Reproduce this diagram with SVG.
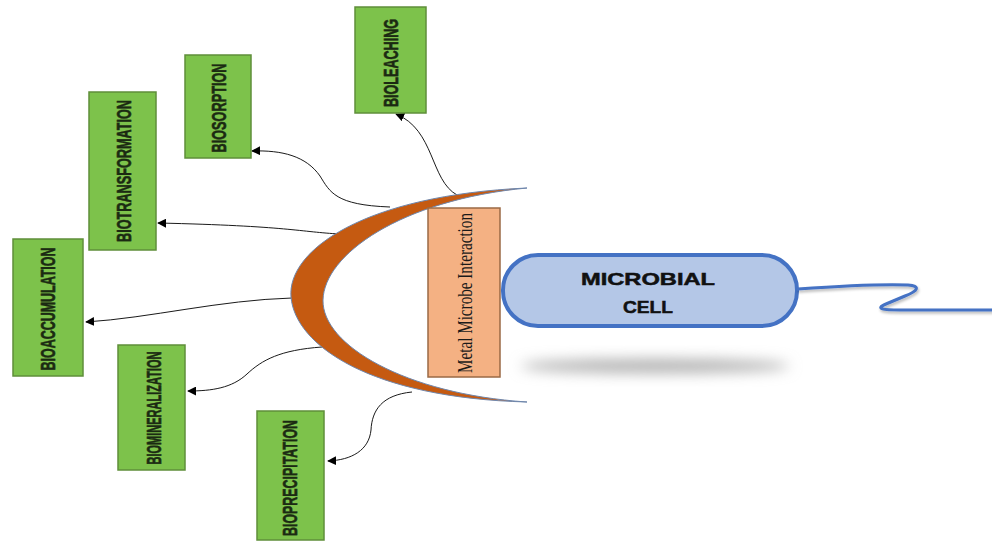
<svg xmlns="http://www.w3.org/2000/svg" width="992" height="543" viewBox="0 0 992 543">
<style>
.box{fill:#7dc24b;stroke:#5f8f3a;stroke-width:1.5}
.lbl{font-family:"Liberation Sans",Arial,sans-serif;font-weight:bold;font-size:20px;fill:#1b2a12;stroke:#1b2a12;stroke-width:0.6;text-anchor:middle;dominant-baseline:central}
.con{fill:none;stroke:#1a1a1a;stroke-width:1;marker-end:url(#ah)}
.cell{font-family:"Liberation Sans",Arial,sans-serif;font-weight:bold;font-size:17px;fill:#111;stroke:#111;stroke-width:0.5;text-anchor:middle}
</style>
<defs>
<marker id="ah" viewBox="0 0 10 10" refX="9" refY="5" markerWidth="9" markerHeight="9" markerUnits="userSpaceOnUse" orient="auto">
<path d="M0,0 L10,5 L0,10 z" fill="#000"/>
</marker>
<filter id="blur" x="-20%" y="-100%" width="140%" height="300%">
<feGaussianBlur stdDeviation="7"/>
</filter>
<filter id="sh" x="-5%" y="-50%" width="110%" height="200%">
<feGaussianBlur in="SourceAlpha" stdDeviation="1.5"/>
<feOffset dx="1" dy="2" result="b"/>
<feComponentTransfer><feFuncA type="linear" slope="0.3"/></feComponentTransfer>
<feMerge><feMergeNode/><feMergeNode in="SourceGraphic"/></feMerge>
</filter>
</defs>
<rect width="992" height="543" fill="#fff"/>

<g id="shadow"><ellipse cx="655" cy="366" rx="135" ry="7" fill="#b0b0b0" filter="url(#blur)"/></g>

<g id="connectors">
<path class="con" d="M457 195 C430 180,435 130,396 114"/>
<path class="con" d="M390 207 C335 205,330 192,320 176 C306 156,282 150,252 151"/>
<path class="con" d="M340 234 C300 232,290 226,158 223"/>
<path class="con" d="M292 298 C220 300,150 318,86 322"/>
<path class="con" d="M322 347 C280 350,262 360,247 374 C232 388,212 391,188 391"/>
<path class="con" d="M412 392 C382 395,372 410,371 430 C369 450,352 460,328 461"/>
</g>

<g id="crescent">
<path d="M527 188 C365 195,287 250,291 297 C295 345,370 398,527 402 C405 394,322 345,323 300 C324 255,400 200,527 188 Z" fill="#c55a11" stroke="#6f87ad" stroke-width="1"/>
</g>

<g id="interaction">
<rect x="428" y="208" width="72" height="169" fill="#f4b183" stroke="#9a6a45" stroke-width="1.5"/>
<text x="0" y="0" transform="translate(465 293) rotate(-90)" font-family="'Liberation Serif','Times New Roman',serif" font-size="21" fill="#1a1a1a" text-anchor="middle" dominant-baseline="central" textLength="160" lengthAdjust="spacingAndGlyphs">Metal Microbe Interaction</text>
</g>

<g id="bioleaching">
<rect class="box" x="355" y="7" width="71" height="106"/>
<text class="lbl" transform="translate(391 63) rotate(-90)" textLength="88" lengthAdjust="spacingAndGlyphs">BIOLEACHING</text>
</g>
<g id="biosorption">
<rect class="box" x="185" y="55" width="66" height="103"/>
<text class="lbl" transform="translate(219 108) rotate(-90)" textLength="89" lengthAdjust="spacingAndGlyphs">BIOSORPTION</text>
</g>
<g id="biotransformation">
<rect class="box" x="89" y="92" width="67" height="158"/>
<text class="lbl" transform="translate(124 171) rotate(-90)" textLength="142" lengthAdjust="spacingAndGlyphs">BIOTRANSFORMATION</text>
</g>
<g id="bioaccumulation">
<rect class="box" x="13" y="239" width="70" height="137"/>
<text class="lbl" transform="translate(48 309) rotate(-90)" textLength="123" lengthAdjust="spacingAndGlyphs">BIOACCUMULATION</text>
</g>
<g id="biomineralization">
<rect class="box" x="118" y="345" width="67" height="125"/>
<text class="lbl" transform="translate(154 408) rotate(-90)" textLength="113" lengthAdjust="spacingAndGlyphs">BIOMINERALIZATION</text>
</g>
<g id="bioprecipitation">
<rect class="box" x="257" y="411" width="67" height="129"/>
<text class="lbl" transform="translate(290 478) rotate(-90)" textLength="116" lengthAdjust="spacingAndGlyphs">BIOPRECIPITATION</text>
</g>

<g id="microbial-cell">
<rect x="503" y="255" width="294" height="71" rx="35" fill="#b4c7e7" stroke="#4472c4" stroke-width="4"/>
<text class="cell" x="648" y="285" textLength="134" lengthAdjust="spacingAndGlyphs">MICROBIAL</text>
<text class="cell" x="648" y="313" textLength="50" lengthAdjust="spacingAndGlyphs">CELL</text>
<path filter="url(#sh)" d="M798 289 C840 286,880 284,908 285 C921 286,918 291,905 296 L886 304 C874 309,884 310,900 310 L992 310" fill="none" stroke="#4472c4" stroke-width="3" stroke-linecap="round" stroke-linejoin="round"/>
</g>
</svg>
